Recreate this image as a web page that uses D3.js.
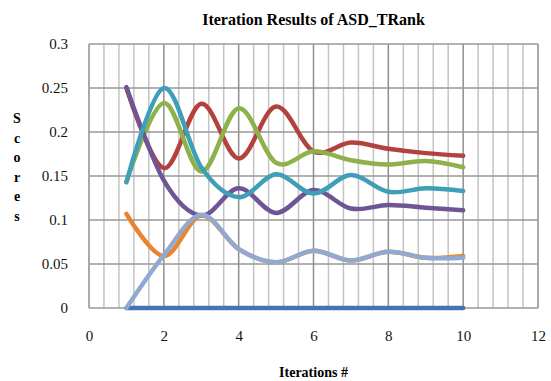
<!DOCTYPE html>
<html>
<head>
<meta charset="utf-8">
<script src="https://cdn.jsdelivr.net/npm/d3@7"></script>
<style>
body { margin: 0; background: #fff; }
svg text { font-family: "Liberation Serif", "DejaVu Serif", serif; }
</style>
</head>
<body>
<svg width="551" height="381"></svg>
<script>
var iterations = [1, 2, 3, 4, 5, 6, 7, 8, 9, 10];
var seriesBlue   = [0, 0, 0, 0, 0, 0, 0, 0, 0, 0];
var seriesRed    = [0.25, 0.159, 0.232, 0.17, 0.229, 0.178, 0.188, 0.181, 0.176, 0.173];
var seriesGreen  = [0.143, 0.233, 0.155, 0.227, 0.165, 0.178, 0.168, 0.163, 0.167, 0.16];
var seriesPurple = [0.251, 0.145, 0.105, 0.136, 0.108, 0.134, 0.113, 0.117, 0.114, 0.111];
var seriesTeal   = [0.143, 0.25, 0.16, 0.126, 0.152, 0.13, 0.151, 0.132, 0.136, 0.133];
var seriesOrange = [0.107, 0.059, 0.105, 0.067, 0.052, 0.065, 0.054, 0.064, 0.057, 0.059];
var seriesLight  = [0, 0.06, 0.106, 0.067, 0.052, 0.065, 0.054, 0.064, 0.057, 0.057];
var xTicks = [0, 2, 4, 6, 8, 10, 12];
var yTicks = [0, 0.05, 0.1, 0.15, 0.2, 0.25, 0.3];

var svg = d3.select("svg"),
	margin = {top: 44, right: 13, bottom: 73, left: 89},
	width = +svg.attr("width") - margin.left - margin.right,
	height = +svg.attr("height") - margin.top - margin.bottom;

var g = svg.append("g")
	.attr("transform", "translate(" + margin.left + "," + margin.top + ")");

var x = d3.scaleLinear().domain([0, 12]).range([0, width]),
	y = d3.scaleLinear().domain([0, 0.3]).range([height, 0]);

// minor vertical grid every 0.4
var minor = d3.range(0, 12.01, 0.4).filter(function(v){ return Math.abs(v / 2 - Math.round(v / 2)) > 0.01; });
g.selectAll(".minor")
	.data(minor)
	.enter().append("line")
		.attr("x1", function(d){ return x(d); })
		.attr("x2", function(d){ return x(d); })
		.attr("y1", 0).attr("y2", height)
		.attr("stroke", "#c4c4c4").attr("stroke-width", 1.5);

// major vertical grid
g.selectAll(".vmajor")
	.data(xTicks)
	.enter().append("line")
		.attr("x1", function(d){ return x(d); })
		.attr("x2", function(d){ return x(d); })
		.attr("y1", 0).attr("y2", height)
		.attr("stroke", "#8e8e8e").attr("stroke-width", 1.5);

// horizontal grid
g.selectAll(".hgrid")
	.data(yTicks)
	.enter().append("line")
		.attr("x1", 0).attr("x2", width)
		.attr("y1", function(d){ return y(d); })
		.attr("y2", function(d){ return y(d); })
		.attr("stroke", "#999").attr("stroke-width", 1.5);

// axes labels
var yAxis = g.append("g")
	.call(d3.axisLeft(y).tickValues(yTicks).tickSize(0).tickPadding(21)
		.tickFormat(function(d){ return d === 0 ? "0" : String(+d.toFixed(2)); }));
yAxis.select(".domain").remove();
yAxis.attr("font-family", "Liberation Serif").attr("font-size", 15);
yAxis.selectAll("text").attr("fill", "#111");

var xAxis = g.append("g")
	.attr("transform", "translate(0," + height + ")")
	.call(d3.axisBottom(x).tickValues(xTicks).tickSize(0).tickPadding(22));
xAxis.select(".domain").remove();
xAxis.attr("font-family", "Liberation Serif").attr("font-size", 15);
xAxis.selectAll("text").attr("fill", "#111");

var all = [
	{v: seriesBlue, c: "#4375b5"},
	{v: seriesRed, c: "#b3423e"},
	{v: seriesGreen, c: "#8eb14b"},
	{v: seriesPurple, c: "#6e5596"},
	{v: seriesTeal, c: "#3f9fb9"},
	{v: seriesOrange, c: "#e8862f"},
	{v: seriesLight, c: "#91a9d2"}
];

var line = d3.line()
	.x(function(d, i){ return x(iterations[i]); })
	.y(function(d){ return y(d); })
	.curve(d3.curveCardinal.tension(0));

g.selectAll(".series")
	.data(all)
	.enter().append("path")
		.attr("d", function(d){ return line(d.v); })
		.attr("fill", "none")
		.attr("stroke", function(d){ return d.c; })
		.attr("stroke-width", 4.5)
		.attr("stroke-linecap", "round")
		.attr("stroke-linejoin", "round");

svg.append("text")
	.text("Iteration Results of ASD_TRank")
	.attr("x", margin.left + width / 2)
	.attr("y", 25)
	.style("font-size", "16px")
	.style("font-weight", "bold")
	.attr("text-anchor", "middle");

svg.append("text")
	.text("Iterations #")
	.attr("x", margin.left + width / 2)
	.attr("y", 377)
	.style("font-size", "14px")
	.style("font-weight", "bold")
	.attr("text-anchor", "middle");

var letters = "Scores".split("");
svg.selectAll(".ylab")
	.data(letters)
	.enter().append("text")
		.text(function(d){ return d; })
		.attr("x", 17)
		.attr("y", function(d, i){ return 123 + i * 19.5; })
		.style("font-size", "14px")
		.style("font-weight", "bold")
		.attr("text-anchor", "middle");
</script>
</body>
</html>
